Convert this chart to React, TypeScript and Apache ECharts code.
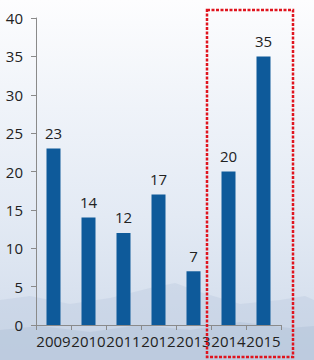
import React, { useEffect, useRef } from "react";
import * as echarts from "echarts";

const categories = ["2009", "2010", "2011", "2012", "2013", "2014", "2015"];
const values = [23, 14, 12, 17, 7, 20, 35];

export default function App() {
  const ref = useRef<HTMLDivElement>(null);
  useEffect(() => {
    if (!ref.current) return;
    const chart = echarts.init(ref.current, null, { renderer: "svg" });
    const font = "'Open Sans', 'Noto Sans', sans-serif";
    chart.setOption({
      animation: false,
      backgroundColor: {
        type: "linear",
        x: 0, y: 0, x2: 0, y2: 1,
        colorStops: [
          { offset: 0, color: "#fdfdfe" },
          { offset: 0.3, color: "#eff3f9" },
          { offset: 0.6, color: "#e3eaf4" },
          { offset: 1, color: "#cfdaea" },
        ],
      },
      graphic: [
        {
          type: "polygon",
          z: -1,
          shape: {
            points: [[0, 300], [30, 296], [70, 304], [110, 298], [150, 288], [175, 283], [200, 292], [240, 304], [280, 300], [305, 296], [314, 300], [314, 360], [0, 360]],
          },
          style: { fill: "rgba(190,205,225,0.45)" },
        },
        {
          type: "polygon",
          z: -1,
          shape: {
            points: [[0, 330], [40, 326], [90, 332], [140, 325], [190, 330], [240, 322], [290, 328], [314, 326], [314, 360], [0, 360]],
          },
          style: { fill: "rgba(175,192,215,0.45)" },
        },
        {
          type: "rect",
          z: 100,
          shape: { x: 207, y: 10, width: 86, height: 347 },
          style: { fill: "none", stroke: "#e0141e", lineWidth: 2.5, lineDash: [3, 1.5] },
        },
      ],
      grid: { left: 36, right: 33, top: 18, bottom: 35, containLabel: false },
      xAxis: {
        type: "category",
        data: categories,
        boundaryGap: true,
        axisLine: { show: true, lineStyle: { color: "#8a8a8a", width: 1 } },
        axisTick: { show: true, inside: false, length: 5, alignWithLabel: false, lineStyle: { color: "#8a8a8a" } },
        axisLabel: { color: "#222", fontSize: 15, fontFamily: font, margin: 8, interval: 0 },
      },
      yAxis: {
        type: "value",
        min: 0,
        max: 40,
        interval: 5,
        axisLine: { show: true, lineStyle: { color: "#8a8a8a", width: 1 } },
        axisTick: { show: true, inside: false, length: 5, lineStyle: { color: "#8a8a8a" } },
        splitLine: { show: false },
        axisLabel: { color: "#222", fontSize: 15, fontFamily: font, margin: 13 },
      },
      series: [
        {
          type: "bar",
          data: values,
          barWidth: "40%",
          itemStyle: { color: "#0e5a9a" },
          label: { show: true, position: "top", distance: 8, color: "#222", fontSize: 15, fontFamily: font },
        },
      ],
    });
    return () => chart.dispose();
  }, []);
  return <div ref={ref} style={{ position: "fixed", left: 0, top: 0, width: 314, height: 360 }} />;
}
